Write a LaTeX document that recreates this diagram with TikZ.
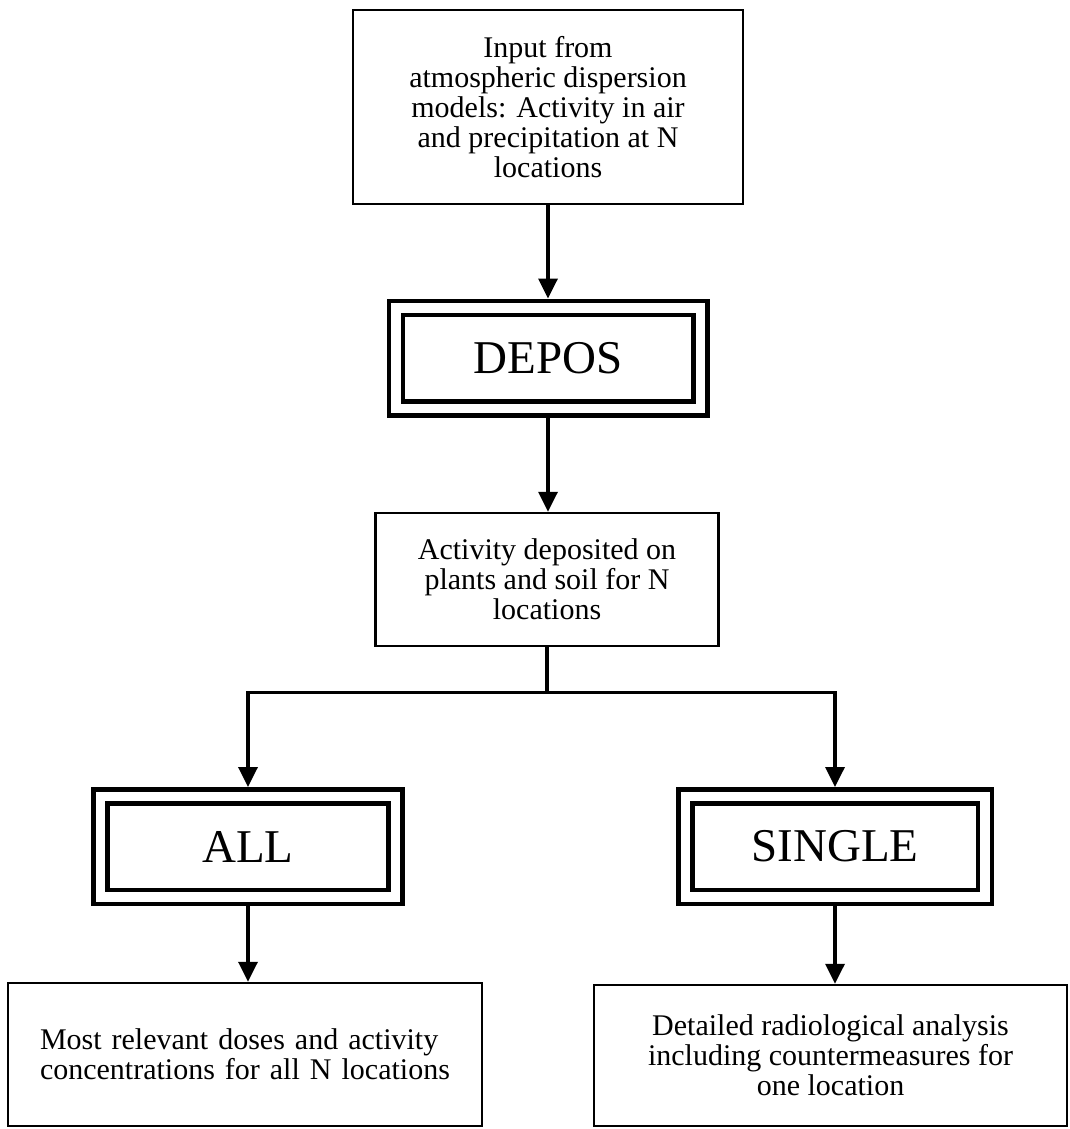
\documentclass[tikz,border=0pt]{standalone}
\usepackage{fontspec}
\setmainfont{Liberation Serif}
\usepackage{tikz}
\usetikzlibrary{arrows.meta}
\usetikzlibrary{positioning}
\usetikzlibrary{calc}

\begin{document}
\begin{tikzpicture}[x=1pt,y=-1pt]

    \useasboundingbox (0,0) rectangle (1069,1129);

    % box styles
    \tikzset{textbox/.style={draw,line width=2.5pt,align=center,inner sep=0pt,font=\fontsize{30}{30}\selectfont}}
    \tikzset{modbox/.style={draw,line width=4.5pt,double,double distance=9.5pt,outer sep=9.25pt,minimum height=100.5pt,font=\fontsize{47}{47}\selectfont}}

    % input and model boxes
    \node[textbox,minimum width=390pt,minimum height=194pt] (input) at (548,107) {Input from\\atmospheric dispersion\\models: Activity in air\\and precipitation at N\\locations};
    \node[modbox,minimum width=304.5pt] (depos) at (548,358) {DEPOS};
    \node[textbox,minimum width=343pt,minimum height=133pt] (act) at (547,579.5) {Activity deposited on\\plants and soil for N\\locations};
    \node[modbox,minimum width=295pt] (all) at (248,846.5) {ALL};
    \node[modbox,minimum width=299.5pt] (single) at (835,846.5) {SINGLE};

    % results
    \node[textbox,align=left,text width=410pt,inner xsep=32pt,minimum height=143pt] (allout) at (245,1054.5) {Most relevant doses and activity\\concentrations for all N locations};
    \node[textbox,minimum width=473pt,minimum height=141pt] (singleout) at (830.5,1055.5) {Detailed radiological analysis\\including countermeasures for\\one location};

    % flow
    \tikzset{arr/.style={-{Triangle[length=20pt,width=19pt]},line width=3.5pt}}
    \draw[arr] (input) -- (depos);
    \draw[arr] (depos.south) -- (depos.south |- act.north);
    \coordinate (fork) at ($(act.south)+(0,45)$);
    \draw[line width=3.5pt] (act) -- (fork);
    \draw[arr] (fork) -| (all);
    \draw[arr] (fork) -| (single);
    \draw[arr] (all) -- (all |- allout.north);
    \draw[arr] (single) -- (single |- singleout.north);

\end{tikzpicture}
\end{document}
